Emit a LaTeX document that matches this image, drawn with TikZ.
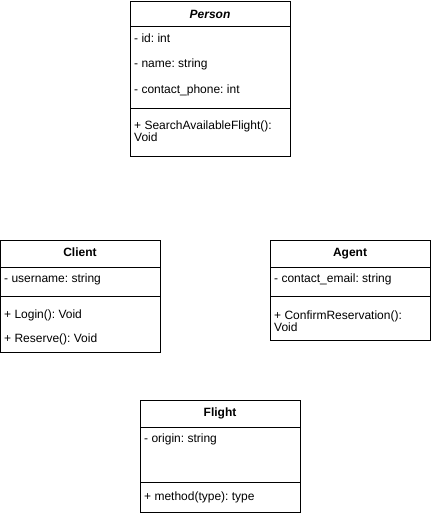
\documentclass[tikz,border=0pt]{standalone}
\usepackage{fontspec}
\setmainfont{Liberation Sans}
\frenchspacing

\def \boxwidth {160}
\def \pad {4}

\tikzset{
  umlbox/.style={draw, line width=0.9pt},
  classname/.style={font=\fontsize{12}{13}\selectfont\bfseries, anchor=base, inner sep=0pt},
  member/.style={font=\fontsize{12}{13}\selectfont, anchor=base west, inner sep=0pt},
}

\begin{document}
\begin{tikzpicture}[x=1pt, y=-1pt]
\useasboundingbox (0,0) rectangle (431,516);

% Person
\draw[umlbox] (130,1) rectangle (130+\boxwidth,156);
\draw[umlbox] (130,26) -- (130+\boxwidth,26);
\draw[umlbox] (130,108) -- (130+\boxwidth,108);
\node[classname] (person) at (210,18.5) {\itshape Person};
\node[member] (personid) at (130+\pad,43) {- id: int};
\node[member] (personname) at (130+\pad,68) {- name: string};
\node[member] (personphone) at (130+\pad,94) {- contact\_phone: int};
\node[member] (personsearch) at (130+\pad,129) {+ SearchAvailableFlight():};
\node[member] (personsearchret) at (130+\pad,141) {Void};

% Client
\draw[umlbox] (0.5,240) rectangle (0.5+\boxwidth,352);
\draw[umlbox] (0.5,267) -- (0.5+\boxwidth,267);
\draw[umlbox] (0.5,296) -- (0.5+\boxwidth,296);
\node[classname] (client) at (80,256.5) {Client};
\node[member] (clientuser) at (\pad,282) {- username: string};
\node[member] (clientlogin) at (\pad,318) {+ Login(): Void};
\node[member] (clientreserve) at (\pad,342) {+ Reserve(): Void};

% Agent
\draw[umlbox] (270,240) rectangle (270+\boxwidth,340);
\draw[umlbox] (270,267) -- (270+\boxwidth,267);
\draw[umlbox] (270,296) -- (270+\boxwidth,296);
\node[classname] (agent) at (350,256.5) {Agent};
\node[member] (agentemail) at (270+\pad,282) {- contact\_email: string};
\node[member] (agentconfirm) at (270+\pad,319) {+ ConfirmReservation():};
\node[member] (agentconfirmret) at (270+\pad,331) {Void};

% Flight
\draw[umlbox] (140,400) rectangle (140+\boxwidth,512);
\draw[umlbox] (140,427) -- (140+\boxwidth,427);
\draw[umlbox] (140,482) -- (140+\boxwidth,482);
\node[classname] (flight) at (220,416.5) {Flight};
\node[member] (flightorigin) at (140+\pad,442) {- origin: string};
\node[member] (flightmethod) at (140+\pad,500) {+ method(type): type};
\end{tikzpicture}
\end{document}
